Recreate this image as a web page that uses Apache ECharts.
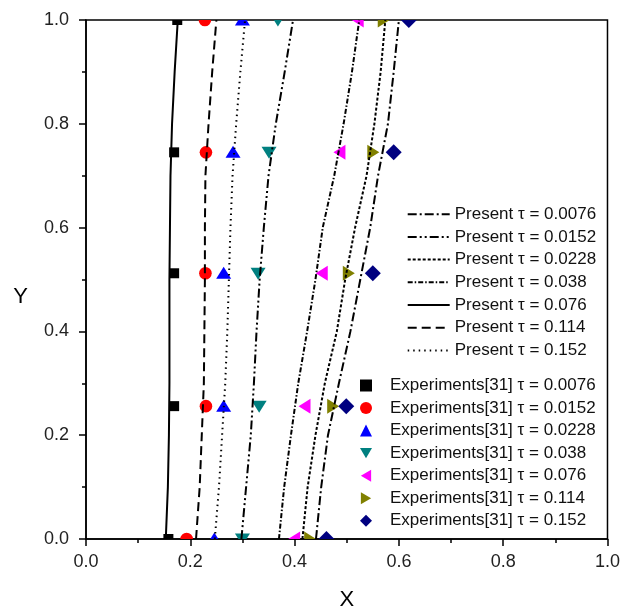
<!DOCTYPE html>
<html>
<head>
<meta charset="utf-8">
<script src="https://cdn.jsdelivr.net/npm/echarts@6/dist/echarts.min.js"></script>
<style>
  html, body { margin: 0; padding: 0; background: #ffffff; }
  #chart { width: 623px; height: 616px; }
</style>
</head>
<body>
<div id="chart"></div>
<script>
// Dimensionless interface position X against height Y, model curves and measurements.
const tauLabels = ['0.0076', '0.0152', '0.0228', '0.038', '0.076', '0.114', '0.152'];

// Heights at which the model curves are sampled
const yPresent = [0, 0.1, 0.2, 0.3, 0.4, 0.5, 0.6, 0.7, 0.8, 0.9, 1.0];

// Model curves (X at each height in yPresent)
const xPresent0076 = [0.441, 0.451, 0.464, 0.485, 0.507, 0.526, 0.545, 0.560, 0.579, 0.590, 0.600];
const xPresent0152 = [0.298, 0.307, 0.316, 0.322, 0.327, 0.333, 0.341, 0.350, 0.364, 0.381, 0.397];
const xPresent0228 = [0.415, 0.425, 0.440, 0.458, 0.481, 0.497, 0.516, 0.538, 0.553, 0.565, 0.574];
const xPresent038  = [0.370, 0.380, 0.393, 0.407, 0.424, 0.440, 0.454, 0.476, 0.494, 0.510, 0.524];
const xPresent076  = [0.153, 0.157, 0.159, 0.160, 0.160, 0.160, 0.161, 0.162, 0.165, 0.170, 0.176];
const xPresent114  = [0.211, 0.218, 0.222, 0.226, 0.227, 0.228, 0.228, 0.229, 0.235, 0.242, 0.250];
const xPresent152  = [0.247, 0.255, 0.261, 0.267, 0.271, 0.274, 0.277, 0.281, 0.288, 0.296, 0.305];

// Measurement heights
const yExp = [0, 0.256, 0.512, 0.745, 1.0];

// Measured X at each height in yExp
const xExp0076 = [0.158, 0.169, 0.169, 0.169, 0.175];
const xExp0152 = [0.193, 0.230, 0.229, 0.230, 0.228];
const xExp0228 = [0.246, 0.264, 0.264, 0.282, 0.300];
const xExp038  = [0.300, 0.332, 0.330, 0.351, 0.368];
const xExp076  = [0.400, 0.420, 0.453, 0.487, 0.522];
const xExp114  = [0.429, 0.473, 0.503, 0.550, 0.570];
const xExp152  = [0.461, 0.499, 0.550, 0.590, 0.619];

const FONT = "'Liberation Sans', Arial, sans-serif";

const presentX = [xPresent0076, xPresent0152, xPresent0228, xPresent038, xPresent076, xPresent114, xPresent152];
const presentDash = [
  [9, 3, 2, 3],          // dash-dot
  [9, 3, 2, 3, 2, 3],    // dash-dot-dot
  [3, 2],                // short dash
  [5, 2, 1.5, 2],        // short dash-dot
  'solid',
  [9, 5],                // dash
  [1.5, 4]               // dot
];

const expX = [xExp0076, xExp0152, xExp0228, xExp038, xExp076, xExp114, xExp152];
const expColors = ['#000000', '#ff0000', '#0000ff', '#008080', '#ff00ff', '#808000', '#000080'];
const expShapes = ['square', 'circle', 'up', 'down', 'left', 'right', 'diamond'];
const expIcons = [
  'rect', 'circle', 'triangle',
  'path://M0,0L14,0L7,12Z',
  'path://M12,0L12,14L0,7Z',
  'path://M0,0L0,14L12,7Z',
  'diamond'
];

function zip(xs, ys) { return xs.map((x, i) => [x, ys[i]]); }

// Marker shapes are drawn as custom items so the grid can clip them at the frame
function markerRenderer(shape, color) {
  return function (params, api) {
    const p = api.coord([api.value(0), api.value(1)]);
    const x = p[0], y = p[1];
    let el;
    switch (shape) {
      case 'square':
        el = { type: 'rect', shape: { x: x - 5, y: y - 5, width: 10, height: 10 } }; break;
      case 'circle':
        el = { type: 'circle', shape: { cx: x, cy: y, r: 6.3 } }; break;
      case 'up':
        el = { type: 'polygon', shape: { points: [[x, y - 6.5], [x + 7.5, y + 5.5], [x - 7.5, y + 5.5]] } }; break;
      case 'down':
        el = { type: 'polygon', shape: { points: [[x, y + 6.5], [x + 7.5, y - 5.5], [x - 7.5, y - 5.5]] } }; break;
      case 'left':
        el = { type: 'polygon', shape: { points: [[x - 6.5, y], [x + 5.5, y - 7.5], [x + 5.5, y + 7.5]] } }; break;
      case 'right':
        el = { type: 'polygon', shape: { points: [[x + 6.5, y], [x - 5.5, y - 7.5], [x - 5.5, y + 7.5]] } }; break;
      default:
        el = { type: 'polygon', shape: { points: [[x, y - 8], [x + 8, y], [x, y + 8], [x - 8, y]] } };
    }
    el.style = { fill: color };
    return el;
  };
}

const series = [];
expX.forEach((xs, i) => {
  series.push({
    name: 'Experiments[31] τ = ' + tauLabels[i],
    type: 'custom',
    clip: true,
    z: 2,
    itemStyle: { color: expColors[i] },
    renderItem: markerRenderer(expShapes[i], expColors[i]),
    data: zip(xs, yExp)
  });
});
presentX.forEach((xs, i) => {
  series.push({
    name: 'Present τ = ' + tauLabels[i],
    type: 'line',
    symbol: 'none',
    z: 3,
    clip: true,
    lineStyle: { color: '#000000', width: 2, type: presentDash[i] },
    itemStyle: { color: '#000000', opacity: 0 },
    data: zip(xs, yPresent)
  });
});

const axisCommon = {
  type: 'value',
  min: 0,
  max: 1,
  interval: 0.2,
  nameLocation: 'middle',
  nameTextStyle: { fontFamily: FONT, fontSize: 22, color: '#000' },
  axisLine: { show: true, onZero: false, lineStyle: { color: '#000', width: 1.5 } },
  axisTick: { show: true, inside: false, length: 7, lineStyle: { color: '#000', width: 1.5 } },
  minorTick: { show: true, splitNumber: 2, length: 4, lineStyle: { color: '#000', width: 1.5 } },
  splitLine: { show: false },
  axisLabel: { fontFamily: FONT, fontSize: 18, color: '#222', formatter: v => v.toFixed(1) }
};

const chart = echarts.init(document.getElementById('chart'), null, { renderer: 'canvas' });
chart.setOption({
  backgroundColor: '#ffffff',
  animation: false,
  grid: { left: 86, right: 15, top: 20, bottom: 76, show: true, borderColor: '#000', borderWidth: 1.5, containLabel: false },
  xAxis: Object.assign({}, axisCommon, {
    name: 'X', nameGap: 50,
    axisLabel: Object.assign({}, axisCommon.axisLabel, { margin: 14 })
  }),
  yAxis: Object.assign({}, axisCommon, {
    name: 'Y', nameGap: 58, nameRotate: 0,
    nameTextStyle: Object.assign({}, axisCommon.nameTextStyle, { verticalAlign: 'top', lineHeight: 34 }),
    axisLabel: Object.assign({}, axisCommon.axisLabel, { margin: 17 })
  }),
  legend: [
    {
      orient: 'vertical',
      left: 406.7,
      top: 205.7,
      padding: 0,
      itemWidth: 42,
      itemHeight: 14,
      itemGap: 5.7,
      itemStyle: { opacity: 0 },
      textStyle: { fontFamily: FONT, fontSize: 17, color: '#111', lineHeight: 14 },
      data: tauLabels.map(t => 'Present τ = ' + t)
    },
    {
      orient: 'vertical',
      left: 360,
      top: 377,
      padding: 0,
      itemWidth: 12,
      itemHeight: 12,
      itemGap: 5.55,
      textStyle: { fontFamily: FONT, fontSize: 17, color: '#111', lineHeight: 12, padding: [0, 0, 0, 13] },
      data: tauLabels.map((t, i) => ({
        name: 'Experiments[31] τ = ' + t,
        icon: expIcons[i],
        itemStyle: { color: expColors[i] }
      }))
    }
  ],
  series: series
});
</script>
</body>
</html>
